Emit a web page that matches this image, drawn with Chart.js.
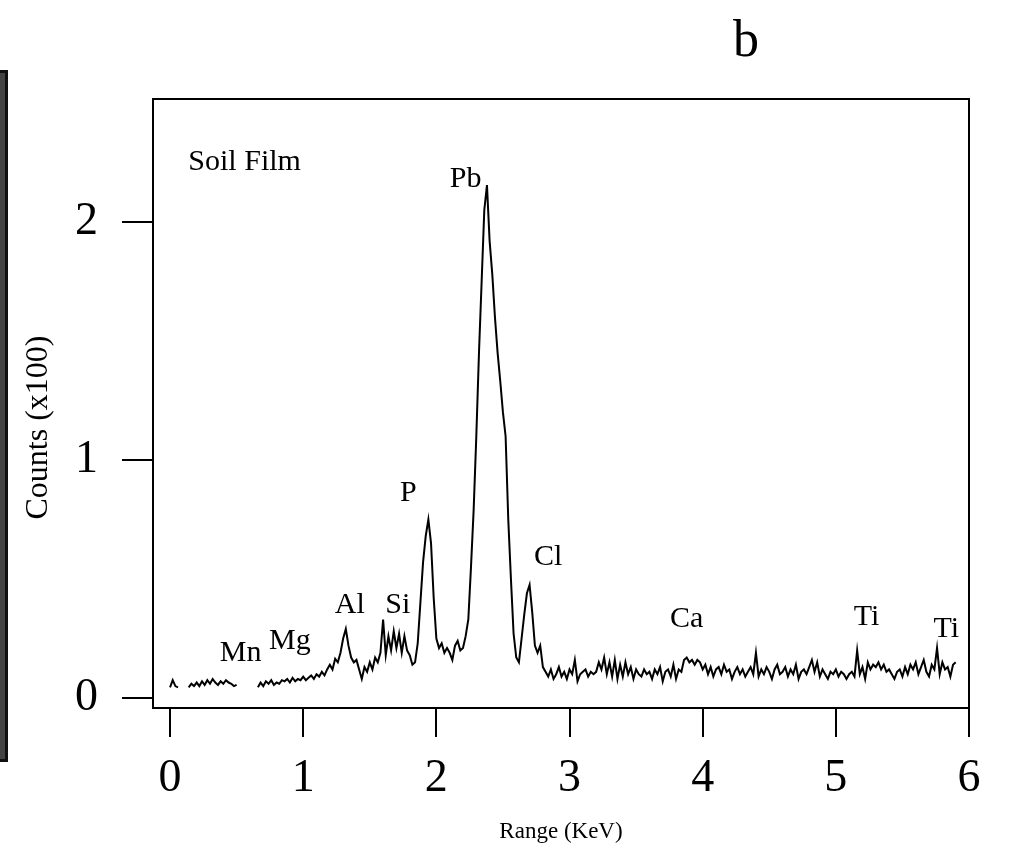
<!DOCTYPE html>
<html>
<head>
<meta charset="utf-8">
<script src="https://cdn.jsdelivr.net/npm/chart.js@4.4.1/dist/chart.umd.min.js"></script>
<style>
  body { margin: 0; background: #fff; }
  #wrap { position: relative; width: 1011px; height: 864px; }
  #panel { position: absolute; left: 0; top: 0; }
  #edge { position: absolute; left: 0; top: 70px; width: 5px; height: 686px;
          background: #444; border: 3px solid #111; border-left: none; }
  #tag { position: absolute; left: 733px; top: 9px; font: 52px "Liberation Serif", serif; color: #000; }
</style>
</head>
<body>
<div id="wrap">
  <canvas id="panel" width="1011" height="864"></canvas>
  <div id="edge"></div>
  <div id="tag">b</div>
</div>
<script>
// sampling grid of the spectrum (keV)
const energyStart = 0;
const energyStep = 0.02;

// counts (x100), one value per 0.02 keV, null = gap in the trace
const counts = [
  0.045, 0.075, 0.05, 0.045, null, null, null, 0.045, 0.06, 0.05,
  0.065, 0.05, 0.07, 0.055, 0.075, 0.06, 0.08, 0.065, 0.055, 0.07,
  0.06, 0.075, 0.065, 0.06, 0.05, 0.055, null, null, null, null,
  null, null, null, 0.045, 0.065, 0.05, 0.07, 0.06, 0.075, 0.055,
  0.065, 0.06, 0.075, 0.07, 0.08, 0.065, 0.085, 0.07, 0.08, 0.075,
  0.09, 0.075, 0.085, 0.095, 0.08, 0.1, 0.09, 0.11, 0.095, 0.12,
  0.14, 0.12, 0.165, 0.15, 0.19, 0.25, 0.29, 0.22, 0.17, 0.15,
  0.16, 0.12, 0.08, 0.13, 0.11, 0.15, 0.12, 0.17, 0.15, 0.19,
  0.33, 0.18, 0.26, 0.2, 0.28, 0.21, 0.27, 0.19, 0.26, 0.2,
  0.18, 0.14, 0.15, 0.23, 0.4, 0.57, 0.68, 0.75, 0.65, 0.42,
  0.25, 0.21, 0.23, 0.19, 0.21, 0.19, 0.16, 0.22, 0.24, 0.2,
  0.21, 0.26, 0.33, 0.55, 0.79, 1.1, 1.45, 1.75, 2.05, 2.155,
  1.92, 1.78, 1.6, 1.45, 1.33, 1.2, 1.1, 0.75, 0.5, 0.27,
  0.17, 0.15, 0.25, 0.35, 0.44, 0.475, 0.36, 0.22, 0.19, 0.22,
  0.13, 0.11, 0.09, 0.12, 0.08, 0.1, 0.13, 0.09, 0.11, 0.08,
  0.12, 0.1, 0.16, 0.07, 0.1, 0.11, 0.12, 0.09, 0.11, 0.1,
  0.11, 0.15, 0.12, 0.17, 0.1, 0.15, 0.09, 0.16, 0.08, 0.14,
  0.09, 0.15, 0.1, 0.13, 0.08, 0.12, 0.1, 0.09, 0.12, 0.1,
  0.11, 0.08, 0.12, 0.1, 0.13, 0.07, 0.11, 0.12, 0.09, 0.14,
  0.08, 0.12, 0.11, 0.16, 0.17, 0.15, 0.16, 0.14, 0.16, 0.15,
  0.12, 0.14, 0.1, 0.13, 0.09, 0.12, 0.13, 0.1, 0.14, 0.11,
  0.12, 0.08, 0.11, 0.13, 0.1, 0.12, 0.09, 0.11, 0.13, 0.1,
  0.19, 0.09, 0.12, 0.1, 0.13, 0.11, 0.08, 0.12, 0.14, 0.1,
  0.11, 0.13, 0.09, 0.12, 0.1, 0.14, 0.08, 0.11, 0.12, 0.1,
  0.13, 0.16, 0.11, 0.15, 0.09, 0.12, 0.1, 0.08, 0.11, 0.1,
  0.12, 0.09, 0.11, 0.1, 0.08, 0.1, 0.11, 0.09, 0.2, 0.1,
  0.13, 0.08, 0.15, 0.12, 0.14, 0.13, 0.15, 0.12, 0.14, 0.11,
  0.12, 0.1, 0.08, 0.11, 0.12, 0.09, 0.13, 0.1, 0.14, 0.12,
  0.15, 0.1, 0.13, 0.16, 0.11, 0.09, 0.14, 0.12, 0.21, 0.1,
  0.15, 0.12, 0.13, 0.09, 0.14, 0.15
];

const xTicks = [0, 1, 2, 3, 4, 5, 6];
const yTicks = [0, 1, 2];

// element labels and where they sit (keV, counts)
const peakNames  = ['Soil Film', 'Pb', 'P', 'Cl', 'Al', 'Si', 'Mn', 'Mg', 'Ca', 'Ti', 'Ti'];
const peakKeV    = [0.56, 2.22, 1.79, 2.84, 1.35, 1.71, 0.53, 0.90, 3.88, 5.23, 5.83];
const peakCounts = [2.25, 2.18, 0.86, 0.59, 0.39, 0.39, 0.19, 0.24, 0.33, 0.34, 0.29];

const serif = '"Liberation Serif", "Times New Roman", serif';

const points = counts.map((c, i) => ({ x: +(energyStart + i * energyStep).toFixed(2), y: c }));

const framePlugin = {
    id: 'frame',
    afterDatasetsDraw(chart) {
        const { ctx, chartArea: a, scales: { x, y } } = chart;
        ctx.save();
        ctx.strokeStyle = '#000';
        ctx.lineWidth = 2;
        ctx.strokeRect(a.left, a.top, a.right - a.left, a.bottom - a.top);
        ctx.fillStyle = '#000';
        ctx.font = '30px ' + serif;
        ctx.textAlign = 'center';
        ctx.textBaseline = 'middle';
        peakNames.forEach((name, i) => {
            ctx.fillText(name, x.getPixelForValue(peakKeV[i]), y.getPixelForValue(peakCounts[i]));
        });
        // y axis title, sits a little below the middle of the axis in the original
        ctx.translate(39, (a.top + a.bottom) / 2 + 24);
        ctx.rotate(-Math.PI / 2);
        ctx.font = '32px ' + serif;
        ctx.fillText('Counts (x100)', 0, 0);
        ctx.restore();
    }
};

new Chart(document.getElementById('panel'), {
    type: 'line',
    data: {
        datasets: [{
            label: 'Soil Film',
            data: points,
            borderColor: '#000',
            borderWidth: 2,
            pointRadius: 0,
            tension: 0,
            spanGaps: false,
            fill: false
        }]
    },
    options: {
        responsive: false,
        animation: false,
        devicePixelRatio: 1,
        layout: { padding: { top: 99, right: 42, bottom: 0, left: 0 } },
        plugins: { legend: { display: false }, tooltip: { enabled: false } },
        scales: {
            x: {
                type: 'linear',
                min: -0.128,
                max: 6,
                afterBuildTicks: s => { s.ticks = xTicks.map(v => ({ value: v })); },
                afterFit: s => { s.height = 156; },
                grid: { drawOnChartArea: false, color: '#000', lineWidth: 2, tickLength: 29 },
                border: { display: true, color: '#000', width: 2 },
                ticks: { color: '#000', font: { family: serif, size: 46 }, padding: 14, maxRotation: 0 },
                title: { display: true, text: 'Range (KeV)', color: '#000',
                         font: { family: serif, size: 23 }, padding: { top: 0, bottom: 18 } }
            },
            y: {
                type: 'linear',
                min: -0.042,
                max: 2.517,
                afterBuildTicks: s => { s.ticks = yTicks.map(v => ({ value: v })); },
                afterFit: s => { s.width = 153; },
                grid: { drawOnChartArea: false, color: '#000', lineWidth: 2, tickLength: 31 },
                border: { display: true, color: '#000', width: 2 },
                ticks: { color: '#000', font: { family: serif, size: 46 }, padding: 24 },
                title: { display: false }
            }
        }
    },
    plugins: [framePlugin]
});
</script>
</body>
</html>
